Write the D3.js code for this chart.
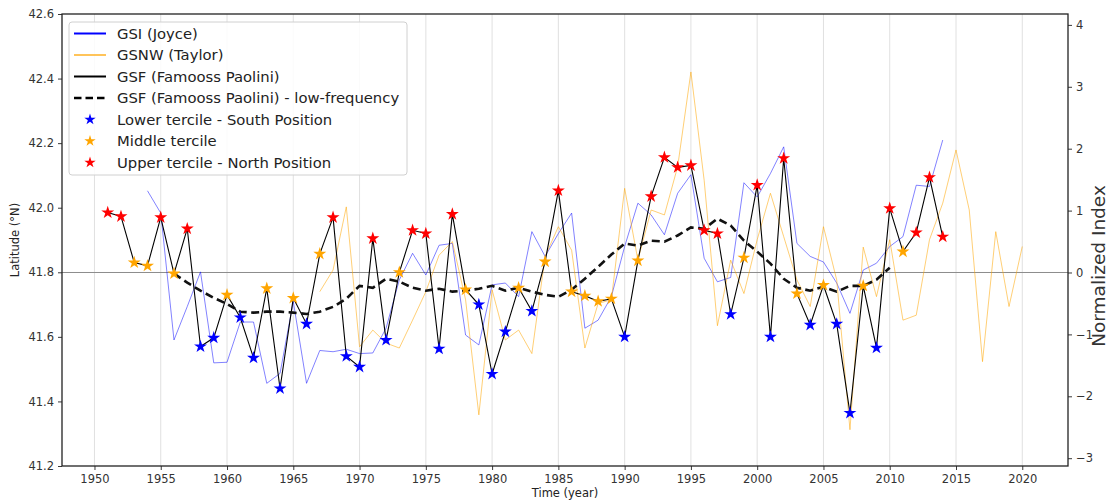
<!DOCTYPE html>
<html>
<head>
<meta charset="utf-8">
<script src="https://cdn.jsdelivr.net/npm/d3@7"></script>
<style>
  html, body { margin: 0; padding: 0; background: #fff; }
  svg { display: block; font-family: "DejaVu Sans", sans-serif; }
</style>
</head>
<body>
<svg id="chart" width="1110" height="502"></svg>
<script>
// Gulf Stream position: latitude series (left axis) and normalized indices (right axis)
const gsfYears = [1951,1952,1953,1954,1955,1956,1957,1958,1959,1960,1961,1962,1963,1964,1965,1966,1967,1968,1969,1970,
  1971,1972,1973,1974,1975,1976,1977,1978,1979,1980,1981,1982,1983,1984,1985,1986,1987,1988,1989,1990,
  1991,1992,1993,1994,1995,1996,1997,1998,1999,2000,2001,2002,2003,2004,2005,2006,2007,2008,2009,2010,
  2011,2012,2013,2014];
const gsfLat = [41.985,41.973,41.83,41.82,41.97,41.796,41.935,41.57,41.597,41.73,41.66,41.535,41.75,41.44,41.72,41.64,41.857,41.97,41.54,41.507,
  41.905,41.59,41.80,41.93,41.92,41.563,41.98,41.746,41.70,41.485,41.616,41.752,41.68,41.833,42.053,41.74,41.727,41.71,41.718,41.60,
  41.836,42.035,42.156,42.125,42.131,41.93,41.92,41.67,41.845,42.07,41.60,42.153,41.734,41.637,41.76,41.64,41.364,41.758,41.566,41.998,
  41.864,41.923,42.094,41.91];
// tercile of each GSF year: L = lower (south), M = middle, U = upper (north)
const gsfTercile = ["U","U","M","M","U","M","U","L","L","M","L","L","M","L","M","L","M","U","L","L",
  "U","L","M","U","U","L","U","M","L","L","L","M","L","M","U","M","M","M","M","L",
  "M","U","U","U","U","U","U","L","M","U","L","U","M","L","M","L","L","M","L","U",
  "M","U","U","U"];

const lowYears = [1956,1957,1958,1959,1960,1961,1962,1963,1964,1965,1966,1967,1968,1969,1970,1971,1972,1973,1974,1975,
  1976,1977,1978,1979,1980,1981,1982,1983,1984,1985,1986,1987,1988,1989,1990,1991,1992,1993,1994,1995,
  1996,1997,1998,1999,2000,2001,2002,2003,2004,2005,2006,2007,2008,2009,2010];
const lowLat = [41.796,41.768,41.743,41.721,41.702,41.678,41.675,41.678,41.678,41.675,41.671,41.678,41.693,41.718,41.758,41.752,41.780,41.771,41.752,41.743,
  41.749,41.740,41.743,41.749,41.758,41.743,41.752,41.740,41.730,41.724,41.746,41.780,41.817,41.855,41.889,41.883,41.898,41.895,41.914,41.939,
  41.935,41.966,41.945,41.898,41.864,41.827,41.780,41.752,41.743,41.755,41.740,41.758,41.758,41.777,41.814];

const gsiYears = [1954,1955,1956,1957,1958,1959,1960,1961,1962,1963,1964,1965,1966,1967,1968,1969,1970,1971,1972,1973,
  1974,1975,1976,1977,1978,1979,1980,1981,1982,1983,1984,1985,1986,1987,1988,1989,1990,1991,1992,1993,
  1994,1995,1996,1997,1998,1999,2000,2001,2002,2003,2004,2005,2006,2007,2008,2009,2010,2011,2012,2013,2014];
const gsiIndex = [1.32,0.96,-1.09,-0.55,0.01,-1.46,-1.45,-0.80,-0.80,-1.79,-1.63,-0.47,-1.79,-1.26,-1.28,-1.24,-1.31,-1.30,-0.90,-0.12,
  0.31,-0.04,0.44,0.47,-1.01,-1.17,-0.20,-0.17,-0.39,0.66,0.26,0.63,0.96,-0.90,-0.77,-0.39,0.42,1.12,0.93,0.61,
  1.28,1.58,0.23,-0.15,-0.08,1.45,1.22,1.60,2.03,0.47,0.26,0.17,-0.17,-0.66,0.04,0.15,0.42,0.58,1.41,1.39,2.14];

const gsnwYears = [1967,1968,1969,1970,1971,1972,1973,1974,1975,1976,1977,1978,1979,1980,1981,1982,1983,1984,1985,1986,
  1987,1988,1989,1990,1991,1992,1993,1994,1995,1996,1997,1998,1999,2000,2001,2002,2003,2004,2005,2006,
  2007,2008,2009,2010,2011,2012,2013,2014,2015,2016,2017,2018,2019,2020];
const gsnwIndex = [-0.31,0.04,1.06,-1.20,-0.93,-1.14,-1.22,-0.77,-0.31,0.28,0.50,-0.44,-2.30,-0.28,-1.09,-0.93,-1.31,0.26,0.74,0.36,
  -1.22,-0.50,-0.44,1.36,0.20,1.01,0.93,1.71,3.24,1.49,-0.86,0.20,-0.34,0.53,1.28,0.58,-0.12,-0.55,0.74,-0.12,
  -2.54,0.41,-0.39,0.53,-0.77,-0.69,0.53,1.12,1.98,1.01,-1.44,0.66,-0.55,0.42];

const xTicks = [1950,1955,1960,1965,1970,1975,1980,1985,1990,1995,2000,2005,2010,2015,2020];
const latTicks = [41.2,41.4,41.6,41.8,42.0,42.2,42.4,42.6];
const idxTicks = [-3,-2,-1,0,1,2,3,4];

const legendItems = [
  {label: "GSI (Joyce)", kind: "line", color: "#0000ff"},
  {label: "GSNW (Taylor)", kind: "line", color: "#ffa500", width: 1.3},
  {label: "GSF (Famooss Paolini)", kind: "line", color: "#000"},
  {label: "GSF (Famooss Paolini) - low-frequency", kind: "dash", color: "#000"},
  {label: "Lower tercile - South Position", kind: "star", color: "#0000ff"},
  {label: "Middle tercile", kind: "star", color: "#ffa500"},
  {label: "Upper tercile - North Position", kind: "star", color: "#ff0000"}
];
const tercileColor = {L: "#0000ff", M: "#ffa500", U: "#ff0000"};

// ---- layout ----
const svg = d3.select("#chart");
const L = 62, R = 1068, T = 14, B = 466;

const x = d3.scaleLinear().domain([1947.55, 2023.45]).range([L, R]);
const yLat = d3.scaleLinear().domain([41.2, 42.6]).range([B, T]);
const yIdx = d3.scaleLinear().domain([-3.126, 4.176]).range([B, T]);

const fmtLat = d3.format(".1f");
const fmtIdx = v => (v < 0 ? "\u2212" + Math.abs(v) : String(v));

// vertical grid
svg.append("g").selectAll("line").data(xTicks).join("line")
  .attr("x1", d => x(d)).attr("x2", d => x(d))
  .attr("y1", T).attr("y2", B)
  .attr("stroke", "#dcdcdc").attr("stroke-width", 0.9);

// zero reference line
svg.append("line")
  .attr("x1", L).attr("x2", R)
  .attr("y1", yIdx(0)).attr("y2", yIdx(0))
  .attr("stroke", "#8c8c8c").attr("stroke-width", 1);

// thin index lines (right axis)
const lineIdx = (years) => d3.line().x((d, i) => x(years[i])).y(d => yIdx(d));
svg.append("path").datum(gsiIndex)
  .attr("d", lineIdx(gsiYears))
  .attr("fill", "none").attr("stroke", "#0000ff").attr("stroke-opacity", 0.55).attr("stroke-width", 0.9);
svg.append("path").datum(gsnwIndex)
  .attr("d", lineIdx(gsnwYears))
  .attr("fill", "none").attr("stroke", "#ffa500").attr("stroke-opacity", 0.6).attr("stroke-width", 0.9);

// GSF latitude line (left axis)
svg.append("path").datum(gsfLat)
  .attr("d", d3.line().x((d, i) => x(gsfYears[i])).y(d => yLat(d)))
  .attr("fill", "none").attr("stroke", "#000").attr("stroke-width", 1.1);

// low-frequency component
svg.append("path").datum(lowLat)
  .attr("d", d3.line().x((d, i) => x(lowYears[i])).y(d => yLat(d)))
  .attr("fill", "none").attr("stroke", "#111").attr("stroke-width", 2.6)
  .attr("stroke-dasharray", "8,4.5");

// tercile stars
const star = d3.symbol().type(d3.symbolStar).size(52);
svg.append("g").selectAll("path").data(gsfLat).join("path")
  .attr("d", star)
  .attr("transform", (d, i) => `translate(${x(gsfYears[i])},${yLat(d)})`)
  .attr("fill", (d, i) => tercileColor[gsfTercile[i]]);

// frame
svg.append("rect")
  .attr("x", L).attr("y", T).attr("width", R - L).attr("height", B - T)
  .attr("fill", "none").attr("stroke", "#222").attr("stroke-width", 1.3);

// axes
const styleAxis = g => {
  g.select(".domain").remove();
  g.selectAll(".tick line").attr("stroke", "#222").attr("stroke-width", 0.9);
  g.selectAll(".tick text").attr("fill", "#333").attr("font-size", 11.5)
    .attr("font-family", "DejaVu Sans, sans-serif");
};
svg.append("g").attr("transform", `translate(0,${B})`)
  .call(d3.axisBottom(x).tickValues(xTicks).tickFormat(d3.format("d")).tickSize(4).tickPadding(5))
  .call(styleAxis);
svg.append("g").attr("transform", `translate(${L},0)`)
  .call(d3.axisLeft(yLat).tickValues(latTicks).tickFormat(fmtLat).tickSize(4).tickPadding(4))
  .call(styleAxis);
svg.append("g").attr("transform", `translate(${R},0)`)
  .call(d3.axisRight(yIdx).tickValues(idxTicks).tickFormat(fmtIdx).tickSize(4).tickPadding(4))
  .call(styleAxis);

// axis titles
svg.append("text").attr("x", (L + R) / 2).attr("y", 497)
  .attr("text-anchor", "middle").attr("font-size", 11.5).attr("fill", "#222").text("Time (year)");
svg.append("text").attr("transform", `translate(19,${(T + B) / 2}) rotate(-90)`)
  .attr("text-anchor", "middle").attr("font-size", 11.5).attr("fill", "#222").text("Latitude (°N)");
svg.append("text").attr("transform", `translate(1105,266) rotate(-90)`)
  .attr("text-anchor", "middle").attr("font-size", 18.5).attr("fill", "#333").text("Normalized Index");

// legend
const lg = svg.append("g").attr("transform", "translate(69,22)");
lg.append("rect").attr("width", 338).attr("height", 153).attr("rx", 3)
  .attr("fill", "#fff").attr("fill-opacity", 0.85)
  .attr("stroke", "#d0d0d0").attr("stroke-width", 1);
const rows = lg.selectAll("g.row").data(legendItems).join("g")
  .attr("class", "row")
  .attr("transform", (d, i) => `translate(0,${11.5 + i * 21.5})`);
rows.filter(d => d.kind !== "star").append("line")
  .attr("x1", 5).attr("x2", 37).attr("y1", 0).attr("y2", 0)
  .attr("stroke", d => d.color)
  .attr("stroke-width", d => d.kind === "dash" ? 2.4 : (d.width || 2))
  .attr("stroke-dasharray", d => d.kind === "dash" ? "7.5,4" : null);
rows.filter(d => d.kind === "star").append("path")
  .attr("d", d3.symbol().type(d3.symbolStar).size(40))
  .attr("transform", "translate(21,0)")
  .attr("fill", d => d.color);
rows.append("text").attr("x", 48).attr("y", 0).attr("dy", "0.35em")
  .attr("font-size", 14.8).attr("fill", "#222").text(d => d.label);
</script>
</body>
</html>
